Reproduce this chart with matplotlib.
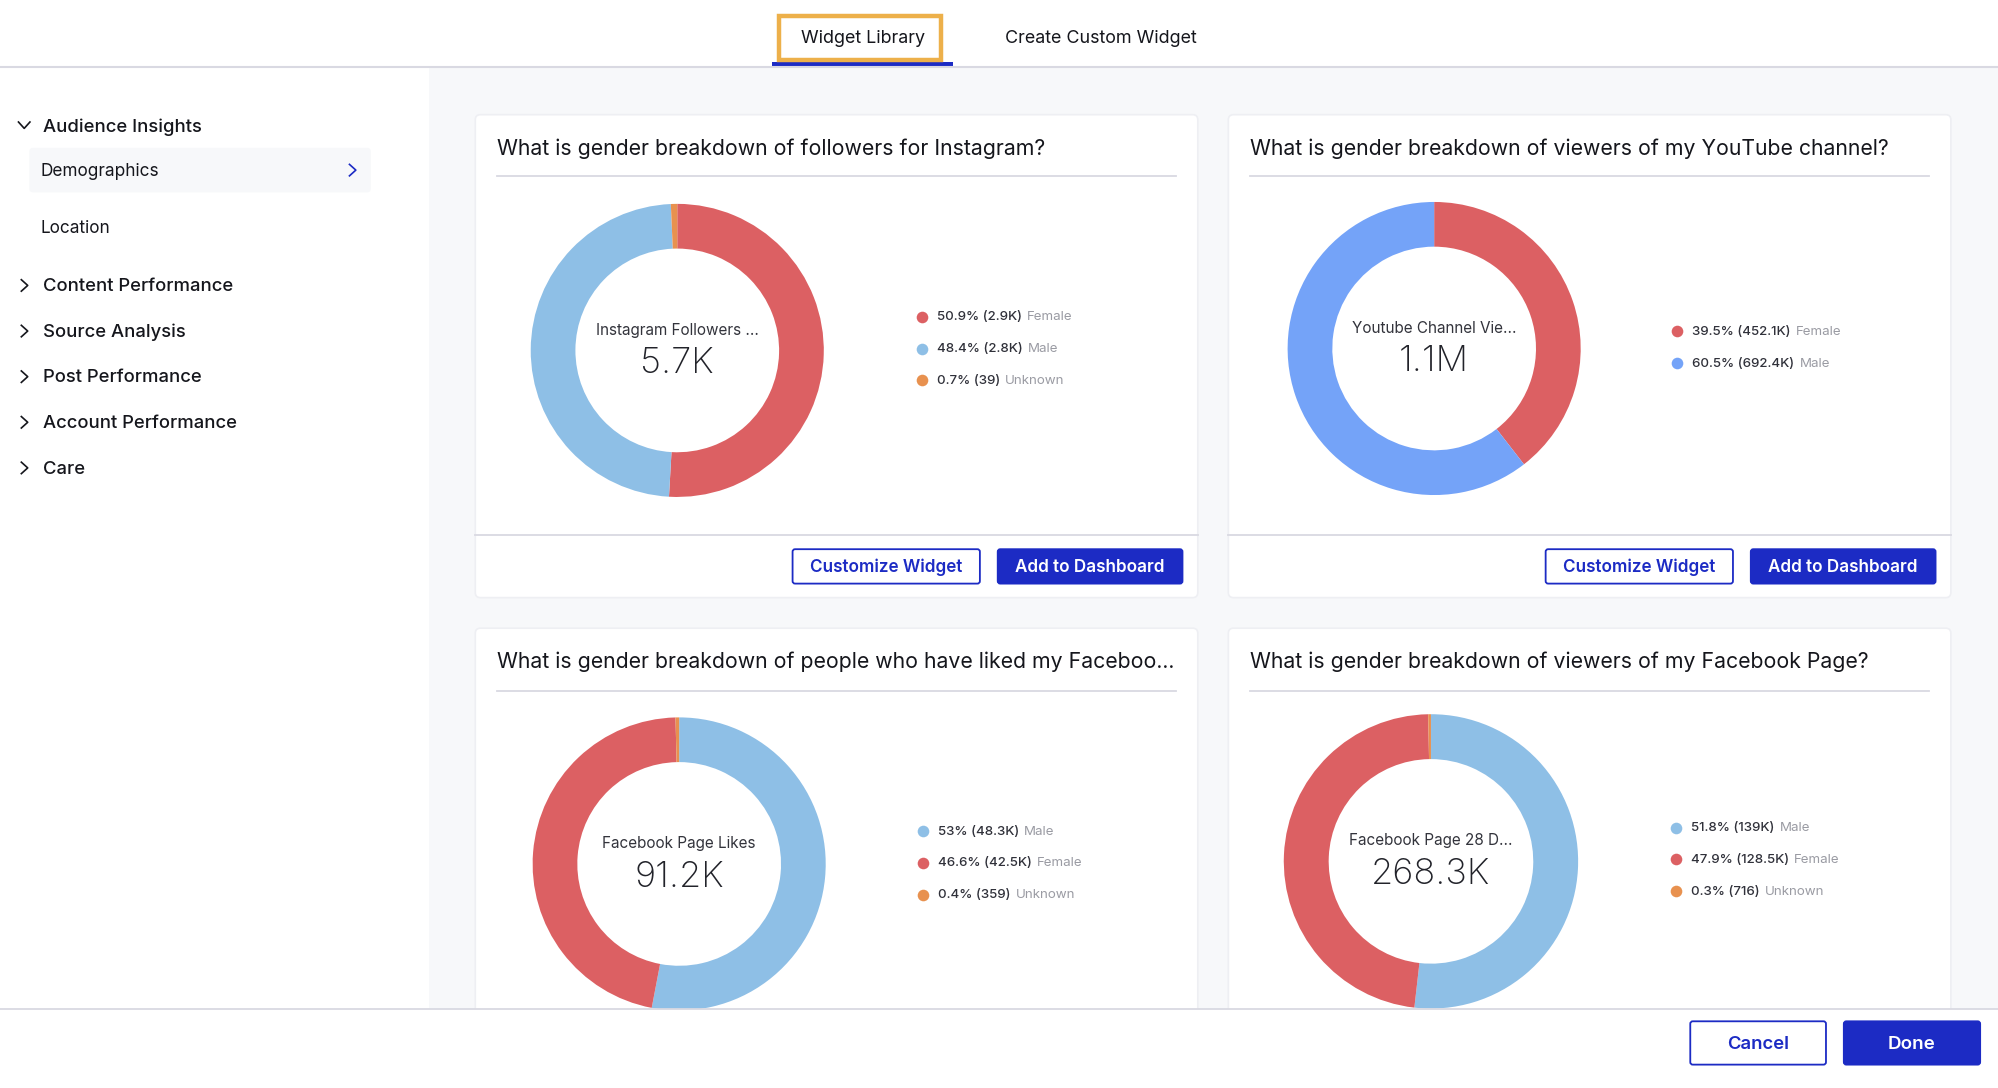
import matplotlib
matplotlib.use("Agg")
import matplotlib.pyplot as plt
from matplotlib.patches import FancyBboxPatch, Rectangle

plt.rcParams["font.family"] = ["Inter", "DejaVu Sans"]

W, H = 1998, 1088
S = W / 1568  # positions below at 1568 wide

RED = "#dc6063"
LIGHT_BLUE = "#8ebfe6"
BLUE = "#74a3f8"
ORANGE = "#e8914f"
NAVY = "#1c2bc4"
INK = "#15161c"

# chart values
titles = [
    "What is gender breakdown of followers for Instagram?",
    "What is gender breakdown of viewers of my YouTube channel?",
    "What is gender breakdown of people who have liked my Faceboo...",
    "What is gender breakdown of viewers of my Facebook Page?",
]
center_labels = ["Instagram Followers ...", "Youtube Channel Vie...", "Facebook Page Likes", "Facebook Page 28 D..."]
center_values = ["5.7K", "1.1M", "91.2K", "268.3K"]
shares_instagram = [50.9, 48.4, 0.7]
shares_youtube = [39.5, 60.5]
shares_likes = [53, 46.6, 0.4]
shares_viewers = [51.8, 47.9, 0.3]
amounts_instagram = ["(2.9K)", "(2.8K)", "(39)"]
amounts_youtube = ["(452.1K)", "(692.4K)"]
amounts_likes = ["(48.3K)", "(42.5K)", "(359)"]
amounts_viewers = ["(139K)", "(128.5K)", "(716)"]
names_instagram = ["Female", "Male", "Unknown"]
names_youtube = ["Female", "Male"]
names_likes = ["Male", "Female", "Unknown"]
names_viewers = ["Male", "Female", "Unknown"]
colors_instagram = [RED, LIGHT_BLUE, ORANGE]
colors_youtube = [RED, BLUE]
colors_likes = [LIGHT_BLUE, RED, ORANGE]
colors_viewers = [LIGHT_BLUE, RED, ORANGE]
sidebar_sections = ["Content Performance", "Source Analysis", "Post Performance", "Account Performance", "Care"]

fig = plt.figure(figsize=(W / 100, H / 100), dpi=100, facecolor="white")


def layer(z):
    ax = fig.add_axes([0, 0, 1, 1], zorder=z)
    ax.set_xlim(0, 1568)
    ax.set_ylim(H / S, 0)
    ax.axis("off")
    return ax


bg = layer(0)
top = layer(2)


def button(ax, x0, x1, y0, y1, label, filled, size=12.3):
    ax.add_patch(FancyBboxPatch((x0, y0), x1 - x0, y1 - y0, boxstyle="round,pad=0,rounding_size=2",
                                facecolor=NAVY if filled else "white", edgecolor=NAVY, linewidth=1.3))
    ax.text((x0 + x1) / 2, (y0 + y1) / 2 + 1, label, ha="center", va="center", fontsize=size,
            color="white" if filled else NAVY, weight="semibold")


def chevron(ax, x, y, down=False, color=INK, s=4.5):
    if down:
        ax.plot([x - s, x, x + s], [y - s / 2, y + s / 2 + 0.5, y - s / 2], color=color, lw=1.2)
    else:
        ax.plot([x - s / 2, x + s / 2 + 0.5, x - s / 2], [y - s, y, y + s], color=color, lw=1.2)


def card(x, y, bottom, rule_y, title):
    bg.add_patch(FancyBboxPatch((x, y), 567, bottom - y, boxstyle="round,pad=0,rounding_size=4",
                                facecolor="white", edgecolor="#eeeff3", linewidth=1.2))
    bg.text(x + 17, y + 26.5, title, ha="left", va="center", fontsize=15.3, color=INK)
    bg.plot([x + 17, x + 550], [rule_y, rule_y], color="#d9d9e2", lw=1.3)


def donut(cx, cy, r, values, colors, label, value):
    d = 2 * r * S
    px, py = (cx - r) * S, (cy - r) * S
    ax = fig.add_axes([px / W, 1 - (py + d) / H, d / W, d / H], zorder=1)
    ax.pie(values, colors=colors, startangle=90, counterclock=False, radius=1,
           wedgeprops=dict(width=0.305, linewidth=0))
    ax.set_xlim(-1, 1)
    ax.set_ylim(-1, 1)
    bg.text(cx, cy - 16, label, ha="center", va="center", fontsize=11, color="#33343c")
    bg.text(cx, cy + 10.5, value, ha="center", va="center", fontsize=26, color="#22232a", weight="light")


def legend(x, y0, shares, amounts, names, colors):
    renderer = fig.canvas.get_renderer()
    for i, (share, amount, name, color) in enumerate(zip(shares, amounts, names, colors)):
        y = y0 + i * 25
        bg.scatter([x - 0.7], [y], s=70, color=color, linewidth=0, zorder=3)
        t = bg.text(x + 11, y + 0.6, f"{share}% {amount}", ha="left", va="center", fontsize=9.6,
                    color="#30313a", weight="medium")
        end = t.get_window_extent(renderer).x1 / S
        bg.text(end + 4, y + 0.6, name, ha="left", va="center", fontsize=9.6, color="#9a9ba3")


# page background
bg.add_patch(Rectangle((337, 53), 1568 - 337, 760, facecolor="#f7f8fa", edgecolor="none"))
bg.plot([0, 1568], [52.7, 52.7], color="#d9d9e2", lw=1.5)

# tabs
bg.add_patch(Rectangle((606, 48.5), 142, 3.3, facecolor=NAVY, edgecolor="none"))
bg.add_patch(Rectangle((611.5, 12.5), 127, 34.5, facecolor="white", edgecolor="#edb04a", linewidth=3.2))
bg.text(677, 30, "Widget Library", ha="center", va="center", fontsize=12.9, color=INK)
bg.text(864, 30, "Create Custom Widget", ha="center", va="center", fontsize=12.9, color=INK)

# sidebar
chevron(bg, 19, 98, down=True)
bg.text(34, 99.5, "Audience Insights", ha="left", va="center", fontsize=13.3, color=INK, weight="medium")
bg.add_patch(FancyBboxPatch((23, 116), 268, 35, boxstyle="round,pad=0,rounding_size=3",
                            facecolor="#f7f8fa", edgecolor="none"))
bg.text(32, 134.5, "Demographics", ha="left", va="center", fontsize=12.4, color=INK)
chevron(bg, 276.5, 133.5, color=NAVY)
bg.text(32, 179.5, "Location", ha="left", va="center", fontsize=12.4, color=INK)
for i, name in enumerate(sidebar_sections):
    y = 224 + i * 35.8
    chevron(bg, 19, y)
    bg.text(34, y + 1, name, ha="left", va="center", fontsize=13.3, color=INK, weight="medium")

# cards
card(373, 90, 469, 138.5, titles[0])
card(964, 90, 469, 138.5, titles[1])
card(373, 493, 830, 542, titles[2])
card(964, 493, 830, 542, titles[3])
for x in [373, 964]:
    bg.plot([x, x + 567], [419.5, 419.5], color="#d9d9e2", lw=1.3)
    button(bg, x + 249, x + 396, 431, 458, "Customize Widget", False)
    button(bg, x + 410, x + 555, 431, 458, "Add to Dashboard", True)

donut(531.5, 275, 115, shares_instagram, colors_instagram, center_labels[0], center_values[0])
donut(1125.5, 273.5, 115, shares_youtube, colors_youtube, center_labels[1], center_values[1])
donut(533, 678, 115, shares_likes, colors_likes, center_labels[2], center_values[2])
donut(1123, 676, 115.5, shares_viewers, colors_viewers, center_labels[3], center_values[3])

legend(724, 248.5, shares_instagram, amounts_instagram, names_instagram, colors_instagram)
legend(1317, 260, shares_youtube, amounts_youtube, names_youtube, colors_youtube)
legend(725, 652, shares_likes, amounts_likes, names_likes, colors_likes)
legend(1316, 649.5, shares_viewers, amounts_viewers, names_viewers, colors_viewers)

# footer sits over the lower cards
top.add_patch(Rectangle((0, 792), 1568, 70, facecolor="white", edgecolor="none"))
top.plot([0, 1568], [792, 792], color="#d9d9e2", lw=1.3)
button(top, 1326.5, 1433, 801.5, 835.5, "Cancel", False, size=13.3)
button(top, 1447, 1554, 801.5, 835.5, "Done", True, size=13.5)

fig.savefig("out.png", dpi=100)
